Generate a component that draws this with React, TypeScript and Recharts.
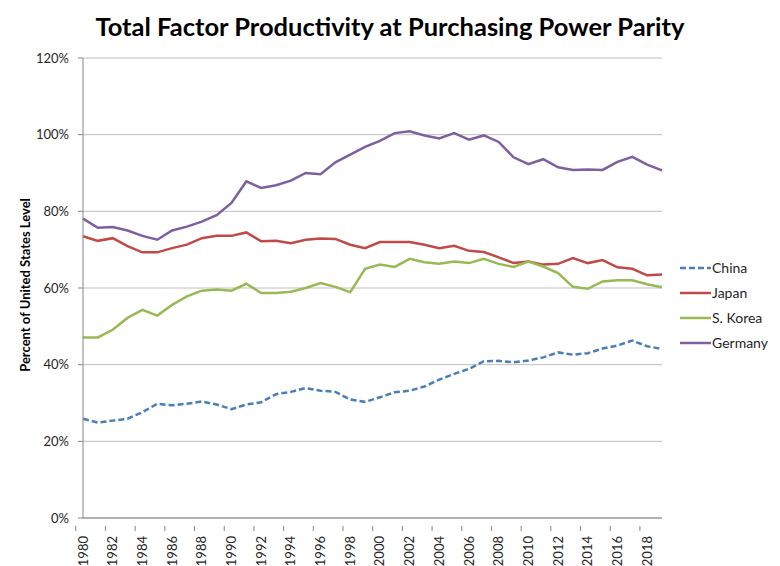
import { LineChart, Line, XAxis, YAxis, CartesianGrid, Legend } from 'recharts';

const years = [
  1980, 1981, 1982, 1983, 1984, 1985, 1986, 1987, 1988, 1989,
  1990, 1991, 1992, 1993, 1994, 1995, 1996, 1997, 1998, 1999,
  2000, 2001, 2002, 2003, 2004, 2005, 2006, 2007, 2008, 2009,
  2010, 2011, 2012, 2013, 2014, 2015, 2016, 2017, 2018, 2019,
];

const china = [
  25.9, 24.9, 25.4, 25.9, 27.6, 29.8, 29.4, 29.8, 30.4, 29.6,
  28.4, 29.6, 30.2, 32.3, 32.9, 33.9, 33.2, 32.9, 30.9, 30.3,
  31.5, 32.8, 33.2, 34.3, 36.1, 37.6, 38.9, 40.9, 41.0, 40.6,
  41.1, 41.9, 43.2, 42.6, 43.0, 44.2, 45.0, 46.3, 44.8, 44.1,
];

const japan = [
  73.5, 72.3, 73.0, 70.9, 69.3, 69.3, 70.4, 71.3, 73.0, 73.6,
  73.6, 74.5, 72.2, 72.3, 71.7, 72.6, 72.9, 72.8, 71.3, 70.4,
  72.0, 72.0, 72.0, 71.3, 70.4, 71.0, 69.7, 69.4, 68.0, 66.5,
  66.9, 66.1, 66.3, 67.8, 66.5, 67.3, 65.4, 65.0, 63.3, 63.5,
];

const korea = [
  47.1, 47.1, 49.1, 52.2, 54.3, 52.8, 55.6, 57.8, 59.3, 59.6,
  59.3, 61.1, 58.7, 58.7, 59.0, 60.0, 61.3, 60.3, 58.9, 65.0,
  66.1, 65.5, 67.6, 66.7, 66.3, 66.9, 66.5, 67.6, 66.3, 65.5,
  66.9, 65.6, 63.9, 60.3, 59.8, 61.7, 62.0, 62.0, 61.0, 60.2,
];

const germany = [
  78.1, 75.7, 75.9, 75.0, 73.6, 72.6, 75.0, 76.0, 77.3, 79.0,
  82.2, 87.8, 86.1, 86.8, 88.0, 90.0, 89.7, 92.8, 94.8, 96.8,
  98.4, 100.4, 100.9, 99.8, 99.0, 100.4, 98.7, 99.8, 98.1, 94.1,
  92.3, 93.6, 91.5, 90.8, 90.9, 90.8, 92.9, 94.2, 92.2, 90.7,
];

const yTicks = [0, 20, 40, 60, 80, 100, 120];

const series = [
  { key: 'china', name: 'China', color: '#4A7EBB', dash: '6 3' },
  { key: 'japan', name: 'Japan', color: '#BE4B48', dash: undefined },
  { key: 'korea', name: 'S. Korea', color: '#98B954', dash: undefined },
  { key: 'germany', name: 'Germany', color: '#7D60A0', dash: undefined },
];

const data = years.map((year, i) => ({
  year,
  china: china[i],
  japan: japan[i],
  korea: korea[i],
  germany: germany[i],
}));

const FONT = 'Lato, "Liberation Sans", sans-serif';
const HALF_BAND = 7.24;

function YearTick(props: any) {
  const { x, y, payload } = props;
  return (
    <g>
      <line x1={x - HALF_BAND} y1={y} x2={x - HALF_BAND} y2={y + 5} stroke="#868686" />
      <text
        transform={`translate(${x},${y + 10}) rotate(-90)`}
        textAnchor="end"
        dy="0.35em"
        fontSize={13}
        fontFamily={FONT}
        fill="#262626"
      >
        {payload.value}
      </text>
    </g>
  );
}

function LegendBox() {
  return (
    <div style={{ fontFamily: FONT, fontSize: 14, color: '#262626' }}>
      {series.map((s) => (
        <div key={s.key} style={{ display: 'flex', alignItems: 'center', height: 25 }}>
          <svg width={31} height={6}>
            <line x1={0} y1={3} x2={31} y2={3} stroke={s.color} strokeWidth={2.5} strokeDasharray={s.dash} />
          </svg>
          <span style={{ marginLeft: 1 }}>{s.name}</span>
        </div>
      ))}
    </div>
  );
}

export default function App() {
  return (
    <div style={{ position: 'absolute', left: 0, top: 0, width: 780, height: 566, background: '#fff' }}>
      <div
        style={{
          position: 'absolute',
          left: 0,
          top: 11,
          width: 780,
          textAlign: 'center',
          fontFamily: FONT,
          fontWeight: 700,
          fontSize: 25.5,
          color: '#000',
        }}
      >
        Total Factor Productivity at Purchasing Power Parity
      </div>
      <LineChart width={780} height={566} data={data} margin={{ top: 58, right: 118, left: 33, bottom: 0 }}>
        <CartesianGrid vertical={false} stroke="#BFBFBF" />
        <XAxis
          dataKey="year"
          interval={1}
          height={48}
          stroke="#868686"
          tickLine={false}
          tick={<YearTick />}
        />
        <YAxis
          width={50}
          domain={[0, 120]}
          ticks={yTicks}
          tickFormatter={(v) => `${v}%`}
          stroke="#868686"
          tickSize={5}
          tickMargin={9}
          tick={{ fontSize: 13, fontFamily: FONT, fill: '#262626' }}
          label={(p: any) => (
            <text
              transform="translate(25,285) rotate(-90)"
              textAnchor="middle"
              dy="0.35em"
              fontSize={13}
              fontWeight={700}
              fontFamily={FONT}
              fill="#000"
            >
              Percent of United States Level
            </text>
          )}
        />
        <Legend
          layout="vertical"
          align="center"
          verticalAlign="middle"
          content={<LegendBox />}
          wrapperStyle={{ position: 'absolute', left: 680, top: 255, width: 100 }}
        />
        {series.map((s) => (
          <Line
            key={s.key}
            dataKey={s.key}
            name={s.name}
            stroke={s.color}
            strokeWidth={2.5}
            strokeDasharray={s.dash}
            dot={false}
            type="linear"
            isAnimationActive={false}
          />
        ))}
      </LineChart>
    </div>
  );
}
